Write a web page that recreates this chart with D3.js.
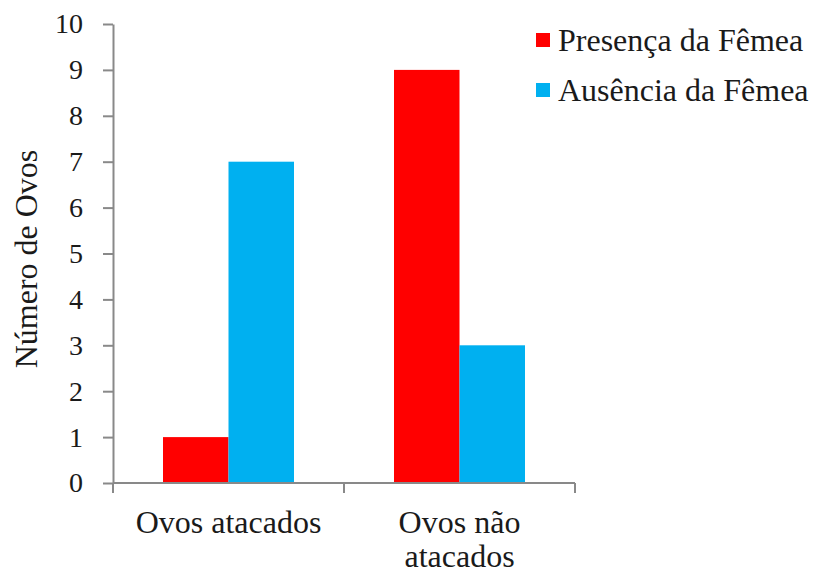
<!DOCTYPE html>
<html>
<head>
<meta charset="utf-8">
<script src="https://cdn.jsdelivr.net/npm/d3@7"></script>
<style>
  #chart text, #chart tspan { font-family: 'Times New Roman', 'Liberation Serif', Tinos, serif !important; }
</style>
</head>
<body style="margin:0">
<svg id="chart" width="813" height="574"></svg>
<script>
// Categories and series
const categories = [["Ovos atacados"], ["Ovos não", "atacados"]];
const seriesNames = ["Presença da Fêmea", "Ausência da Fêmea"];
const presenca = [1, 9];
const ausencia = [7, 3];
const yTicks = [0, 1, 2, 3, 4, 5, 6, 7, 8, 9, 10];
const colors = ["#FF0000", "#00B0F0"];

const fontName = "Times New Roman";
const svg = d3.select("#chart");
const plotLeft = 113, plotRight = 575, plotTop = 24, plotBottom = 483;
const axisColor = "#898989";
const textColor = "#1a1a1a";

const catKeys = categories.map(c => c.join(" "));
const x = d3.scaleBand().domain(catKeys).range([plotLeft, plotRight])
  .paddingInner(100 / 231).paddingOuter(50 / 231);
const xSub = d3.scaleBand().domain(seriesNames).range([0, x.bandwidth()]);
const y = d3.scaleLinear().domain([0, 10]).range([plotBottom, plotTop]);

const rows = catKeys.map((k, i) => ({ key: k, values: [presenca[i], ausencia[i]] }));

// Bars
const barLayer = svg.append("g");
rows.forEach(r => {
  r.values.forEach((v, j) => {
    barLayer.append("rect")
      .attr("x", x(r.key) + xSub(seriesNames[j]))
      .attr("y", y(v))
      .attr("width", xSub.bandwidth())
      .attr("height", y(0) - y(v))
      .attr("fill", colors[j]);
  });
});

// Y axis
const yAxis = d3.axisLeft(y).tickValues(yTicks).tickSize(10).tickPadding(20).tickSizeOuter(0);
const ya = svg.append("g").attr("transform", `translate(${plotLeft},0)`).call(yAxis);
ya.attr("font-family", fontName).attr("font-size", 28);
ya.select(".domain").attr("stroke", axisColor).attr("stroke-width", 2);
ya.selectAll(".tick line").attr("stroke", axisColor).attr("stroke-width", 2);
ya.selectAll(".tick text").attr("fill", textColor);

// X axis line with boundary ticks
const xa = svg.append("g");
xa.append("line").attr("x1", plotLeft).attr("x2", plotRight)
  .attr("y1", plotBottom).attr("y2", plotBottom)
  .attr("stroke", axisColor).attr("stroke-width", 2);
const bounds = [plotLeft, plotLeft + x.step(), plotRight];
xa.selectAll(".xt").data(bounds).join("line")
  .attr("x1", d => d).attr("x2", d => d)
  .attr("y1", plotBottom).attr("y2", plotBottom + 10)
  .attr("stroke", axisColor).attr("stroke-width", 2);

// Category labels
categories.forEach((lines, i) => {
  const cx = x(catKeys[i]) + x.bandwidth() / 2;
  const t = svg.append("text").attr("text-anchor", "middle")
    .attr("font-family", fontName).attr("font-size", 32).attr("fill", textColor)
    .attr("x", cx).attr("y", 533);
  lines.forEach((ln, k) => {
    t.append("tspan").attr("x", cx).attr("dy", k === 0 ? 0 : 34).text(ln);
  });
});

// Y axis title
svg.append("text")
  .attr("transform", "translate(37,259) rotate(-90)")
  .attr("text-anchor", "middle")
  .attr("font-family", fontName).attr("font-size", 32).attr("fill", textColor)
  .text("Número de Ovos");

// Legend
const legend = svg.append("g");
seriesNames.forEach((name, i) => {
  const yy = 33 + i * 50;
  legend.append("rect").attr("x", 536).attr("y", yy).attr("width", 14).attr("height", 14)
    .attr("fill", colors[i]);
  legend.append("text").attr("x", 558).attr("y", yy + 18)
    .attr("font-family", fontName).attr("font-size", 32).attr("fill", textColor)
    .text(name);
});
</script>
</body>
</html>
